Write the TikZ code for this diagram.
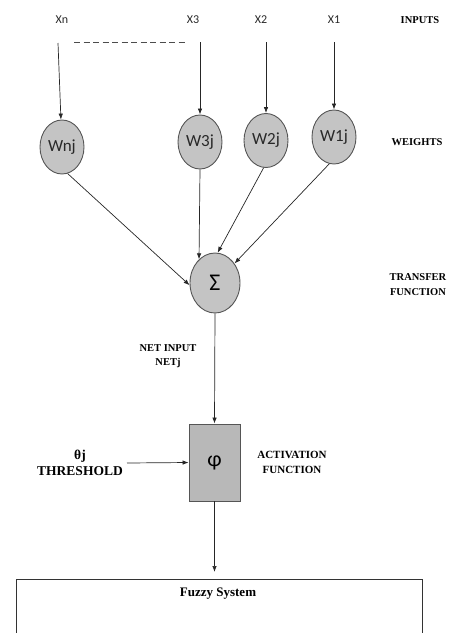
\documentclass[tikz,border=0pt]{standalone}
\usepackage{fontspec}
\setmainfont{Liberation Serif}
\newfontfamily\calib{Carlito}
\usetikzlibrary{arrows.meta,shapes.geometric}
\definecolor{cfill}{RGB}{196,196,196}
\definecolor{bfill}{RGB}{184,184,184}
\definecolor{edge}{RGB}{85,85,85}
\definecolor{txt}{RGB}{40,40,40}
\tikzset{
  x=1pt,y=-1pt,
  weight/.style={ellipse,draw=edge,fill=cfill,line width=0.9pt,minimum width=44pt,minimum height=54pt,inner sep=0pt,font=\calib\fontsize{17}{17}\selectfont,text=txt},
  inlab/.style={font=\calib\fontsize{12}{12}\selectfont,text=txt,inner sep=0pt},
  caplab/.style={font=\bfseries\fontsize{10.5}{14.5}\selectfont,align=center,inner sep=0pt},
  arr/.style={-{Latex[length=6pt,width=4.5pt]},line width=0.7pt,draw=black!85},
}
\begin{document}
\begin{tikzpicture}
\useasboundingbox (0,0) rectangle (449,633);
\clip (0,0) rectangle (449,633);
% inputs
\node[inlab] (xn) at (62,20) {Xn};
\node[inlab] (x3) at (193,20) {X3};
\node[inlab] (x2) at (261,20) {X2};
\node[inlab] (x1) at (334,20) {X1};
\node[caplab] (inputs) at (420,20) {INPUTS};
\coordinate (cn) at (58,43);
\coordinate (c3) at (200,42);
\coordinate (c2) at (266,42);
\coordinate (c1) at (334,42);
\coordinate (d1) at (74,42);
\coordinate (d2) at (186,42);
\draw[dash pattern=on 6pt off 3.5pt,line width=0.9pt,draw=black!70] (d1) -- (d2);
% weights
\node[weight] (wnj) at (62,147) {Wnj};
\node[weight] (w3j) at (200,142) {W3j};
\node[weight] (w2j) at (266,140.5) {W2j};
\node[weight] (w1j) at (334,137) {W1j};
\node[caplab] (weights) at (417,142) {WEIGHTS};
\draw[arr] (cn) -- (wnj);
\draw[arr] (c3) -- (w3j);
\draw[arr] (c2) -- (w2j);
\draw[arr] (c1) -- (w1j);
% sum
\node[ellipse,draw=edge,fill=cfill,line width=0.9pt,minimum width=50pt,minimum height=60pt,inner sep=0pt,font=\calib\fontsize{24}{24}\selectfont] (sig) at (215,283) {Σ};
\node[caplab] (transfer) at (418,284.5) {TRANSFER\\FUNCTION};
\draw[arr] (wnj.-78) -- (sig.185);
\draw[arr] (w3j.south) -- (sig.124);
\draw[arr] (w2j.-95) -- (sig.85);
\draw[arr] (w1j.-100) -- (sig.45);
% net input
\node[caplab] (net) at (168,356) {NET INPUT\\NETj};
% activation
\node[draw=edge,fill=bfill,line width=0.9pt,minimum width=51pt,minimum height=77pt,inner sep=0pt,font=\calib\fontsize{22}{22}\selectfont] (phi) at (214.5,462.5) {φ};
\draw[arr] (sig.south) -- (phi.north);
\node[font=\bfseries\fontsize{13.5}{15.5}\selectfont,align=center,inner sep=0pt] (theta) at (80,463) {θj\\THRESHOLD};
\coordinate (tc) at (127,463);
\draw[arr] (tc) -- (phi.west);
\node[caplab,font=\bfseries\fontsize{11}{15}\selectfont] (act) at (292,462) {ACTIVATION\\FUNCTION};
% fuzzy system
\node[draw=black!80,line width=0.9pt,minimum width=406pt,minimum height=70pt,anchor=north,inner sep=0pt] (fz) at (219,579) {};
\node[font=\bfseries\fontsize{13}{13}\selectfont,inner sep=0pt] (fzt) at (218,594) {Fuzzy System};
\draw[arr,shorten >=7pt] (phi.south) -- (phi.south |- fz.north);
\end{tikzpicture}
\end{document}
